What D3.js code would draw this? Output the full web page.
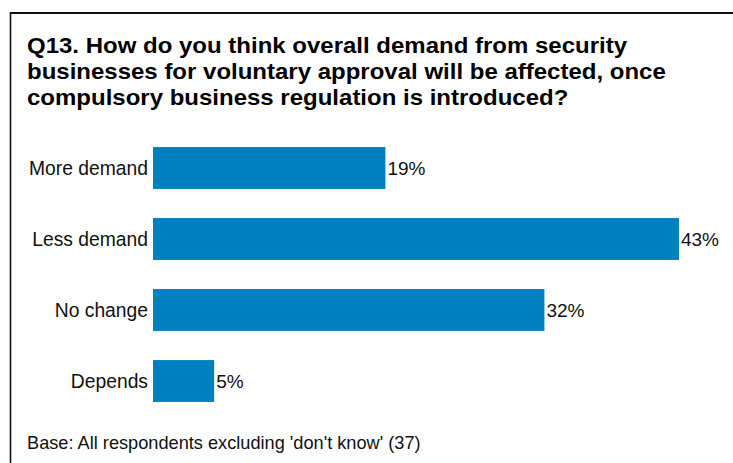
<!DOCTYPE html>
<html>
<head>
<meta charset="utf-8">
<script src="https://cdn.jsdelivr.net/npm/d3@7/dist/d3.min.js"></script>
<style>
  html, body { margin: 0; padding: 0; background: #fff; }
  svg { display: block; }
</style>
</head>
<body>
<svg id="chart" width="733" height="463"></svg>
<script>
// Survey responses (% of respondents)
const categories = ["More demand", "Less demand", "No change", "Depends"];
const values = [19, 43, 32, 5];
const valueLabels = ["19%", "43%", "32%", "5%"];

const titleLines = [
  "Q13. How do you think overall demand from security",
  "businesses for voluntary approval will be affected, once",
  "compulsory business regulation is introduced?"
];
const baseNote = "Base: All respondents excluding 'don't know' (37)";

const width = 733, height = 463;
const svg = d3.select("#chart");
const font = "'Liberation Sans', Arial, Helvetica, sans-serif";

// Frame (top and left edges)
svg.append("line")
  .attr("x1", 10).attr("x2", width)
  .attr("y1", 13).attr("y2", 13)
  .attr("stroke", "#111").attr("stroke-width", 2);
svg.append("line")
  .attr("x1", 10.5).attr("x2", 10.5)
  .attr("y1", 12).attr("y2", height)
  .attr("stroke", "#111").attr("stroke-width", 1.6);

// Title
const titleBaselines = [53, 79, 105];
svg.append("g")
  .selectAll("text")
  .data(titleLines)
  .join("text")
  .attr("transform", (d, i) => `translate(27,${titleBaselines[i]}) scale(1,0.9)`)
  .attr("font-family", font)
  .attr("font-weight", "bold")
  .attr("font-size", 24)
  .attr("fill", "#000")
  .text(d => d);

// Scales
const x = d3.scaleLinear().domain([0, 50]).range([153, 764.6]);
const y = d3.scaleBand()
  .domain(categories)
  .range([132.5, 416.5])
  .paddingInner(0.41)
  .paddingOuter(0.205);

// Bars
svg.append("g")
  .selectAll("rect")
  .data(values)
  .join("rect")
  .attr("x", x(0))
  .attr("y", (d, i) => y(categories[i]))
  .attr("width", d => x(d) - x(0))
  .attr("height", y.bandwidth())
  .attr("fill", "#0080c0");

// Category labels
const yAxis = d3.axisLeft(y).tickSize(0).tickPadding(5);
const gAxis = svg.append("g")
  .attr("transform", `translate(${x(0)},0)`)
  .call(yAxis);
gAxis.select(".domain").remove();
gAxis.selectAll("text")
  .attr("font-family", font)
  .attr("font-size", 19.3)
  .attr("fill", "#111")
  .attr("dy", "0.36em");

// Value labels
svg.append("g")
  .selectAll("text")
  .data(values)
  .join("text")
  .attr("x", d => x(d) + 2)
  .attr("y", (d, i) => y(categories[i]) + y.bandwidth() / 2)
  .attr("dy", "0.36em")
  .attr("font-family", font)
  .attr("font-size", 19)
  .attr("fill", "#111")
  .text((d, i) => valueLabels[i]);

// Base note
svg.append("text")
  .attr("x", 27)
  .attr("y", 449)
  .attr("font-family", font)
  .attr("font-size", 18.2)
  .attr("fill", "#111")
  .text(baseNote);
</script>
</body>
</html>
